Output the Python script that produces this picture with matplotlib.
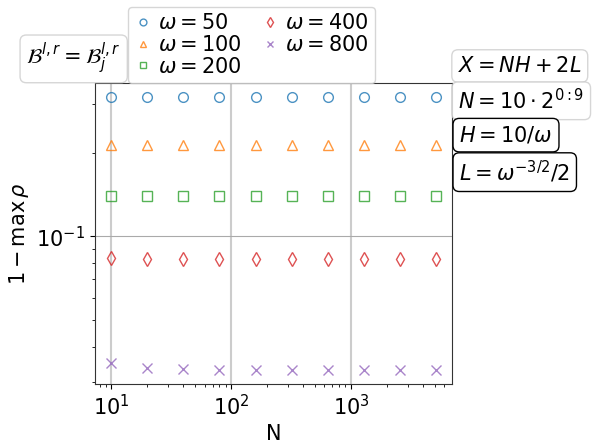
import numpy as np
import matplotlib.pyplot as plt

# Datos
N = [10, 20, 40, 80, 160, 320, 640, 1280, 2560, 5120]
omegas = [50, 100, 200, 400, 800]
val_w50 = [0.318, 0.318, 0.318, 0.318, 0.318, 0.318, 0.318, 0.318, 0.318, 0.318]
val_w100 = [0.213, 0.213, 0.213, 0.213, 0.213, 0.213, 0.213, 0.213, 0.213, 0.213]
val_w200 = [0.1395, 0.1395, 0.1395, 0.1395, 0.1395, 0.1395, 0.1395, 0.1395, 0.1395, 0.1395]
val_w400 = [0.0835, 0.0829, 0.0829, 0.0829, 0.0829, 0.0829, 0.0829, 0.0829, 0.0829, 0.0829]
val_w800 = [0.0350, 0.0336, 0.0333, 0.0330, 0.0330, 0.0330, 0.0330, 0.0330, 0.0330, 0.0330]
series = [val_w50, val_w100, val_w200, val_w400, val_w800]
markers = ['o', '^', 's', 'd', 'x']

plt.rcParams['font.size'] = 15

fig = plt.figure(figsize=(5.98, 4.46), dpi=100)
ax = fig.add_axes([0.159, 0.139, 0.597, 0.675])

for i, (w, y) in enumerate(zip(omegas, series)):
    ax.plot(N, y, linestyle='none', marker=markers[i], mfc='none', color=f'C{i}',
            markersize=7, alpha=0.8, label=rf'$\omega = {w}$')

ax.set_xscale('log')
ax.set_yscale('log')
ax.set_xlabel('N')
ax.set_ylabel(r'$1 - \max\,\rho$')

# Rejilla: verticales claras, horizontal más oscura
ax.grid(True, axis='x', which='major', color='#cccccc', lw=1.5)
ax.grid(True, axis='y', which='major', color='#aaaaaa', lw=0.8)
ax.spines[:].set_color('#333333')

ax.legend(loc='lower left', bbox_to_anchor=(0.092, 1.0), borderaxespad=0, ncol=2,
          markerscale=0.7, handlelength=0.8, handletextpad=0.35, columnspacing=0.95,
          labelspacing=0.08, borderpad=0.3)

# Cajas de texto con parámetros
gris = dict(boxstyle='round,pad=0.3', fc='white', ec='#cccccc', alpha=0.8)
negro = dict(boxstyle='round,pad=0.3', fc='white', ec='black')
fig.text(0.044, 0.868, r'$\mathcal{B}^{l,r} = \mathcal{B}_j^{l,r}$', bbox=gris, va='center')
fig.text(0.766, 0.852, r'$X = NH + 2L$', bbox=gris, va='center')
fig.text(0.766, 0.774, r'$N = 10 \cdot 2^{0:9}$', bbox=gris, va='center')
fig.text(0.768, 0.697, r'$H = 10/\omega$', bbox=negro, va='center')
fig.text(0.768, 0.614, r'$L = \omega^{-3/2}/2$', bbox=negro, va='center')

fig.savefig('out.png', dpi=100)
